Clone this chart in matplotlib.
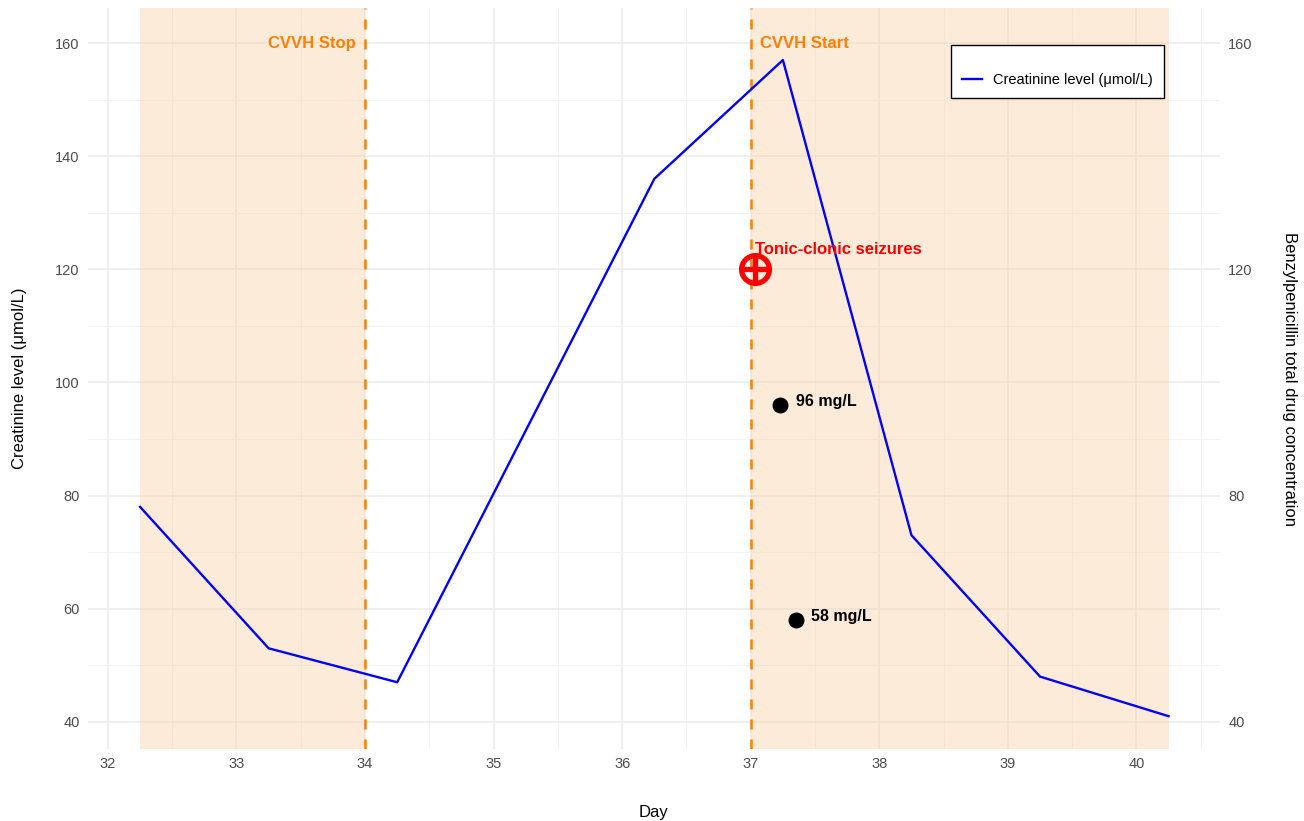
import numpy as np
import matplotlib
matplotlib.use("Agg")
from matplotlib import pyplot as plt

plt.rcParams["font.family"] = ["Liberation Sans", "DejaVu Sans"]

#+++++ data
days = [32.25, 33.25, 34.25, 36.25, 37.25, 38.25, 39.25, 40.25]
creatinine = [78, 53, 47, 136, 157, 73, 48, 41]

conc_days = [37.23, 37.35]
conc_vals = [96, 58]
conc_labels = ["96 mg/L", "58 mg/L"]

seizure_day = 37.03
seizure_val = 120

cvvh_off = (32.25, 34)
cvvh_on = (37, 40.25)
#-----

orange = "#FF7F00"
peach = "#FAD0A6"

fig = plt.figure(figsize=(13.04, 8.21), dpi=100)
ax = fig.add_axes([88/1304, 1-749/821, (1220-88)/1304, (749-8)/821])

ax.set_xlim(31.845, 40.65)
ax.set_ylim(35.2, 166.2)

# grid, ggplot-minimal style
ax.set_xticks(np.arange(32, 41, 1))
ax.set_xticks(np.arange(32.5, 40.6, 1), minor=True)
ax.set_yticks(np.arange(40, 161, 20))
ax.set_yticks(np.arange(50, 151, 20), minor=True)
ax.grid(which="major", color="#EBEBEB", lw=1.1)
ax.grid(which="minor", color="#F3F3F3", lw=0.7)
ax.set_axisbelow(True)
for s in ax.spines.values():
    s.set_visible(False)
ax.tick_params(which="both", length=0, labelsize=10.5, labelcolor="#4D4D4D", pad=6)

# shaded CVVH periods
for a, b in [cvvh_off, cvvh_on]:
    ax.axvspan(a, b, color=peach, alpha=0.42, lw=0, zorder=1)
ax.axvline(cvvh_off[1], color=orange, ls=(0, (4, 4)), lw=1.8, zorder=2)
ax.axvline(cvvh_on[0], color=orange, ls=(0, (4, 4)), lw=1.8, zorder=2)
ax.text(cvvh_off[1] - 0.07, 160, "CVVH Stop", color=orange, fontsize=12,
        fontweight="bold", ha="right", va="center")
ax.text(cvvh_on[0] + 0.07, 160, "CVVH Start", color=orange, fontsize=12,
        fontweight="bold", ha="left", va="center")

ax.plot(days, creatinine, color="#0000FF", lw=1.7, zorder=3,
        label="Creatinine level (\u03bcmol/L)")

# drug concentrations
ax.scatter(conc_days, conc_vals, s=110, color="black", zorder=4)
for x, y, t in zip(conc_days, conc_vals, conc_labels):
    ax.text(x + 0.12, y + 0.6, t, fontsize=11.5, fontweight="bold", va="center")

# seizure marker
ax.plot(seizure_day, seizure_val, marker="o", ms=20, mfc="none", mec="red",
        mew=3.8, zorder=5)
ax.plot(seizure_day, seizure_val, marker="+", ms=20, mec="red", mew=3.8, zorder=5)
ax.text(seizure_day, seizure_val + 3.5, "Tonic-clonic seizures", color="red",
        fontsize=12, fontweight="bold", ha="left", va="center")

ax.set_xlabel("Day", fontsize=12, labelpad=24)
ax.set_ylabel("Creatinine level (\u03bcmol/L)", fontsize=12, labelpad=20)

ax2 = ax.twinx()
ax2.set_ylim(ax.get_ylim())
ax2.set_yticks([40, 80, 120, 160])
for s in ax2.spines.values():
    s.set_visible(False)
ax2.tick_params(length=0, labelsize=10.5, labelcolor="#4D4D4D", pad=6)
ax2.set_ylabel("Benzylpenicillin total drug concentration", fontsize=12,
               rotation=270, labelpad=32)

leg = ax.legend(loc="upper right", bbox_to_anchor=(1164/1304, 1-45/821),
                bbox_transform=fig.transFigure, fontsize=10.5, frameon=True,
                fancybox=False, framealpha=1, borderpad=0.75, borderaxespad=0,
                handlelength=1.4, handletextpad=0.75, title=" ",
                title_fontsize=7)
leg.get_frame().set_edgecolor("black")
leg.get_frame().set_linewidth(1.0)

fig.savefig("out.png", dpi=100)
